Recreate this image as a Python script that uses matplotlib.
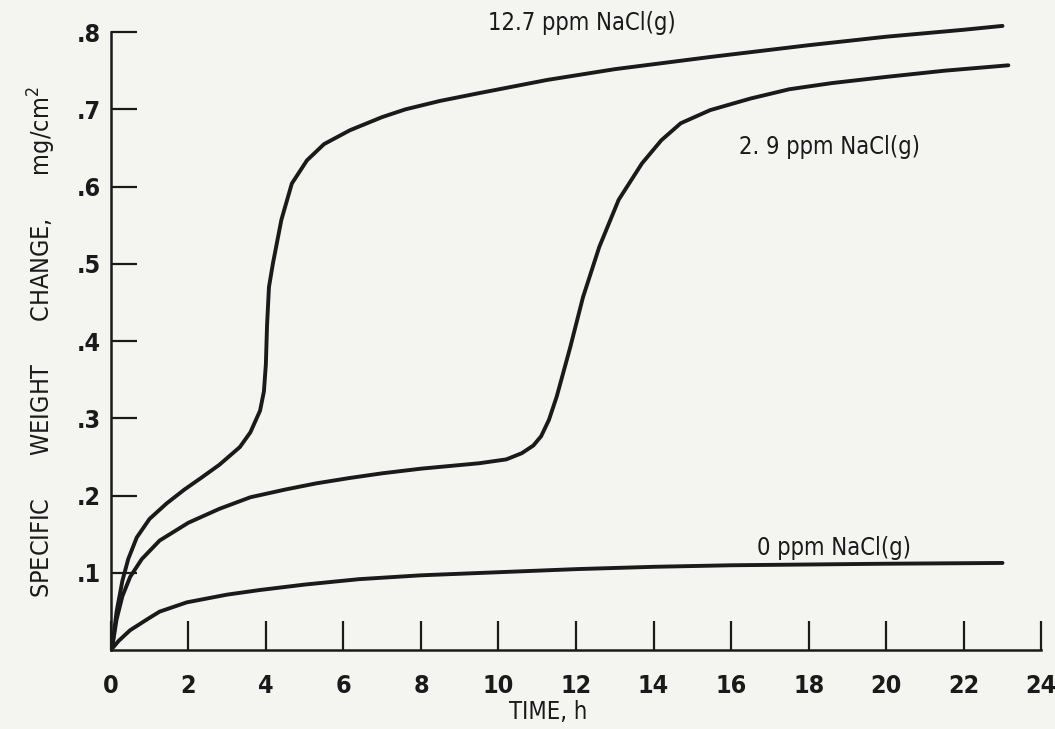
import numpy as np
import matplotlib; matplotlib.use('Agg')
import matplotlib.pyplot as plt

C_BG = '#f4f4f1'
C_INK = '#1a1a1a'

# time (h) and specific weight change (mg/cm^2)
t_127 = [0.05, 0.15, 0.3, 0.45, 0.67, 1.0, 1.44, 1.9, 2.3, 2.8, 3.33, 3.6, 3.85, 3.95,
         4.0, 4.03, 4.08, 4.18, 4.4, 4.67, 5.06, 5.5, 6.17, 7.0, 7.6, 8.5, 9.5, 11.25,
         13.0, 15.5, 18.0, 20.0, 22.0, 23.0]
w_127 = [0.01, 0.05, 0.09, 0.118, 0.146, 0.17, 0.19, 0.208, 0.222, 0.24, 0.263, 0.282, 0.31, 0.335,
         0.37, 0.42, 0.47, 0.50, 0.557, 0.604, 0.634, 0.655, 0.673, 0.69, 0.70, 0.711, 0.721, 0.738,
         0.752, 0.768, 0.783, 0.794, 0.803, 0.808]

t_29 = [0.05, 0.15, 0.3, 0.5, 0.8, 1.26, 2.0, 2.8, 3.6, 4.5, 5.3, 6.17, 7.0, 8.0, 9.5, 10.2,
        10.6, 10.9, 11.1, 11.3, 11.5, 11.85, 12.18, 12.6, 13.1, 13.7, 14.2, 14.7, 15.46,
        16.5, 17.5, 18.6, 20.0, 21.5, 23.15]
w_29 = [0.008, 0.04, 0.07, 0.095, 0.118, 0.142, 0.165, 0.183, 0.198, 0.208, 0.216, 0.223, 0.229, 0.235, 0.242, 0.247,
        0.255, 0.265, 0.277, 0.298, 0.328, 0.392, 0.457, 0.522, 0.583, 0.63, 0.66, 0.682, 0.699,
        0.714, 0.726, 0.734, 0.742, 0.75, 0.757]

t_0 = [0.05, 0.2, 0.5, 1.0, 1.26, 1.96, 3.0, 3.85, 5.0, 6.4, 8.0, 10.0, 12.0, 14.0, 16.0, 18.0, 20.0, 23.0]
w_0 = [0.003, 0.012, 0.026, 0.042, 0.05, 0.062, 0.072, 0.078, 0.085, 0.092, 0.097, 0.101, 0.105, 0.108,
       0.11, 0.111, 0.112, 0.113]

labels = ['12.7 ppm NaCl(g)', '2. 9 ppm NaCl(g)', '0 ppm NaCl(g)']
xticks = list(range(0, 25, 2))
yticks = [0.1, 0.2, 0.3, 0.4, 0.5, 0.6, 0.7, 0.8]
ytick_labels = ['.1', '.2', '.3', '.4', '.5', '.6', '.7', '.8']

plt.rcParams['font.family'] = ['DejaVu Sans']
plt.rcParams['font.stretch'] = 'condensed'

fig = plt.figure(figsize=(10.55, 7.29), dpi=100)
fig.patch.set_facecolor(C_BG)
ax = fig.add_axes([0.105, 0.108, 0.882, 0.848])
ax.set_facecolor(C_BG)

for t, w in [(t_127, w_127), (t_29, w_29), (t_0, w_0)]:
    ax.plot(t, w, color=C_INK, lw=2.8, solid_capstyle='round',
            solid_joinstyle='round', clip_on=False)

ax.set_xlim(0, 24)
ax.set_ylim(0, 0.8)
ax.set_xticks(xticks)
ax.set_xticklabels([str(x) for x in xticks], fontweight='bold')
ax.set_yticks(yticks)
ax.set_yticklabels(ytick_labels, fontweight='bold')
ax.tick_params(axis='x', direction='in', length=21, width=1.6, pad=17,
               labelsize=18, colors=C_INK)
ax.tick_params(axis='y', direction='in', length=19, width=1.6, pad=7,
               labelsize=18, colors=C_INK)
ax.spines[['top', 'right']].set_visible(False)
for s in ['left', 'bottom']:
    ax.spines[s].set_linewidth(1.8)
    ax.spines[s].set_color(C_INK)

ax.text(12.15, 0.812, labels[0], ha='center', va='center', fontsize=17, color=C_INK)
ax.text(18.55, 0.651, labels[1], ha='center', va='center', fontsize=17, color=C_INK)
ax.text(18.65, 0.132, labels[2], ha='center', va='center', fontsize=17, color=C_INK)

fig.text(548 / 1055, 1 - 712 / 729, 'TIME, h', ha='center', va='center',
         fontsize=17, color=C_INK)
fig.text(42 / 1055, 1 - 342 / 729, 'SPECIFIC      WEIGHT      CHANGE,      mg/cm$^2$',
         rotation=90, ha='center', va='center', fontsize=18, color=C_INK)

plt.savefig('out.png', dpi=100, facecolor=C_BG)
